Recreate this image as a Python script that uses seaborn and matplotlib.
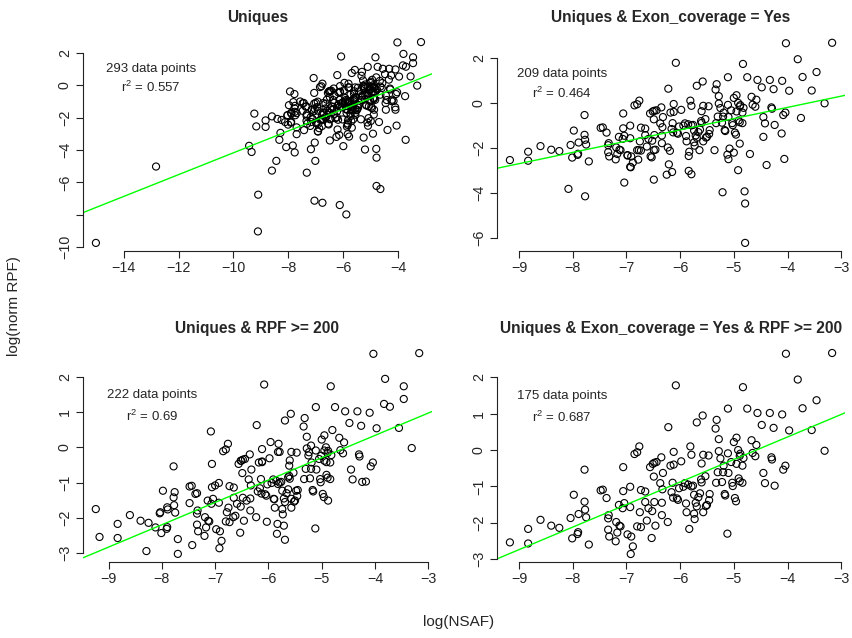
import numpy as np
import matplotlib
matplotlib.use("Agg")
import matplotlib.pyplot as plt
import seaborn as sns

# points shared by all four panels (Uniques & Exon_coverage = Yes & RPF >= 200)
core_x = [-9.17, -8.83, -8.83, -8.60, -8.40, -8.25, -8.04, -8.01, -7.98, -7.91,
          -7.90, -7.89, -7.78, -7.78, -7.77, -7.75, -7.70, -7.48, -7.44, -7.37,
          -7.34, -7.33, -7.34, -7.32, -7.20, -7.19, -7.17, -7.14, -7.13, -7.11,
          -7.06, -7.06, -7.04, -7.07, -6.98, -6.93, -6.93, -6.91, -6.92, -6.88,
          -6.85, -6.80, -6.76, -6.80, -6.75, -6.73, -6.73, -6.65, -6.65, -6.62,
          -6.59, -6.56, -6.53, -6.52, -6.51, -6.49, -6.48, -6.46, -6.48, -6.44,
          -6.37, -6.35, -6.34, -6.33, -6.32, -6.34, -6.22, -6.23, -6.18, -6.16,
          -6.12, -6.12, -6.14, -6.13, -6.08, -6.06, -6.04, -6.02, -5.98, -5.94,
          -5.91, -5.89, -5.88, -5.85, -5.83, -5.81, -5.79, -5.79, -5.76, -5.74,
          -5.74, -5.73, -5.71, -5.69, -5.69, -5.66, -5.63, -5.61, -5.60, -5.60,
          -5.58, -5.57, -5.57, -5.53, -5.52, -5.50, -5.47, -5.46, -5.45, -5.33,
          -5.34, -5.32, -5.30, -5.28, -5.28, -5.25, -5.22, -5.20, -5.19, -5.17,
          -5.16, -5.12, -5.11, -5.11, -5.10, -5.05, -5.03, -5.02, -5.00, -4.98,
          -4.96, -4.95, -4.95, -4.92, -4.91, -4.89, -4.89, -4.88, -4.84, -4.84,
          -4.83, -4.82, -4.75, -4.67, -4.65, -4.60, -4.58, -4.56, -4.48, -4.45,
          -4.42, -4.33, -4.30, -4.29, -4.26, -4.24, -4.10, -4.08, -4.04, -4.03,
          -3.97, -3.81, -3.72, -3.55, -3.46, -3.31, -3.17]
core_y = [-2.54, -2.17, -2.57, -1.92, -2.08, -2.14, -1.87, -2.43, -1.23, -2.31,
          -2.26, -1.76, -0.54, -1.42, -1.64, -1.85, -2.60, -1.11, -1.09, -1.32,
          -1.88, -1.79, -2.19, -2.38, -2.51, -1.98, -2.27, -1.51, -2.08, -2.10,
          -0.47, -1.13, -1.46, -1.60, -2.32, -1.01, -1.57, -2.38, -2.86, -2.65,
          -0.11, -0.06, 0.10, -2.10, -1.71, -2.12, -1.10, -1.14, -1.43, -1.94,
          -1.60, -0.47, -2.42, -1.68, -0.38, -0.73, -0.35, -2.08, -1.43, -0.33,
          -0.91, -0.20, -1.79, -1.08, -0.63, -1.45, 0.63, -1.98, -0.43, -1.16,
          -0.05, -0.40, -0.90, -1.31, 1.78, -1.33, -1.37, -1.05, -0.31, -1.01,
          -0.91, -1.47, -1.71, -0.95, -2.17, 0.10, -0.13, -1.00, -0.98, -1.23,
          -1.75, -1.90, -1.45, 0.76, -1.55, -1.30, -1.19, -0.81, -0.89, -0.37,
          0.95, -0.13, -1.71, -0.72, -1.54, -1.51, -0.15, -1.38, -1.21, -0.90,
          0.59, 0.83, -0.61, 0.30, -0.03, -0.23, -0.88, -0.61, -0.43, -1.21,
          -1.25, -2.30, 1.14, -0.09, -0.63, -0.33, -0.90, -0.99, 0.22, -1.32,
          -1.41, 0.34, -0.38, 0.00, -0.78, -0.86, -0.16, -0.10, -0.90, -0.43,
          1.73, -0.22, 1.14, 0.27, -0.08, -0.17, 0.14, 1.02, 0.69, -0.63,
          -0.91, 1.02, -0.20, -0.26, 0.61, -0.98, 0.98, -0.54, -0.43, 2.65,
          0.54, 1.94, 1.15, 0.55, 1.37, -0.02, 2.67]

# extra points with RPF >= 200 but no exon coverage
rpf_extra_x = [-9.24, -8.29, -8.12, -7.70, -7.43, -7.48, -7.08, -6.03, -5.84, -5.69,
               -5.71, -4.88, -3.83, -3.46, -4.80, -4.17, -6.78, -6.66, -6.41, -7.00,
               -6.20, -5.90, -5.57, -5.48, -6.12, -5.82, -5.63, -5.24, -4.95, -4.91,
               -5.01, -5.20, -5.96, -5.82, -5.61, -6.52, -7.34, -8.03, -7.90, -7.76]
rpf_extra_y = [-1.75, -2.94, -2.27, -3.02, -2.77, -1.58, 0.45, -2.11, -2.45, -2.62,
               -2.22, -1.51, 1.23, 1.73, 0.49, -0.97, -1.84, -1.98, -1.51, -1.08,
               -1.25, -1.46, -1.46, -1.23, -0.42, -1.04, -0.85, -0.14, -0.09, -0.42,
               -0.24, 0.05, 0.15, -0.13, -0.52, -0.38, -1.30, -1.84, -1.70, -1.27]

# extra points with exon coverage but RPF < 200
exon_extra_x = [-8.08, -7.77, -7.04, -6.49, -6.25, -6.21, -6.15, -5.84, -5.79, -5.21,
                -4.80, -4.79, -4.79, -4.92, -4.39, -4.06, -4.89, -4.70, -5.10, -5.00,
                -5.08, -5.36, -5.64, -5.84, -6.19, -6.49, -6.55, -6.78, -6.93, -6.77,
                -6.98, -4.11, -3.75, -4.45]
exon_extra_y = [-3.82, -4.15, -3.54, -3.41, -3.19, -2.73, -3.07, -3.02, -3.17, -3.97,
                -3.93, -4.47, -6.22, -2.99, -2.76, -2.49, -1.81, -2.27, -2.50, -2.21,
                -2.03, -2.10, -2.10, -2.36, -2.13, -2.10, -2.37, -2.52, -2.84, -2.10,
                -2.34, -1.36, -0.67, -1.51]

# remaining uniques (neither filter)
other_x = [-15.01, -12.82, -9.43, -9.34, -9.10, -9.11, -8.60, -8.44, -8.33, -7.84,
           -7.33, -7.18, -7.02, -7.05, -6.76, -6.13, -5.89, -6.00, -5.26, -4.65,
           -3.73,
           -7.82, -7.57, -7.15, -6.96, -6.72, -6.60, -6.41, -6.29, -6.23, -6.05,
           -5.93, -5.87, -5.74, -5.62, -5.56, -5.44, -5.32, -5.26, -5.13, -5.07,
           -5.01, -4.89, -4.77, -4.65, -4.46, -4.34, -4.22, -4.10, -7.94, -7.70,
           -6.84, -5.87]
other_y = [-9.74, -5.02, -3.74, -4.12, -6.76, -9.03, -5.27, -4.67, -3.37, -3.72,
           -5.40, -3.95, -4.67, -7.13, -7.26, -7.40, -7.98, -3.76, -3.23, -6.41,
           -3.37,
           -1.04, -1.00, -1.51, -1.35, -1.68, -0.89, -1.31, -2.03, -1.62, -1.10,
           -0.79, -1.51, -0.58, -1.00, -1.82, -0.38, -0.69, -0.07, -0.48, -1.31,
           0.14, -0.79, -0.27, -0.58, -1.10, 0.35, -0.89, -1.51, -0.38, -1.72,
           -2.13, -2.55]

titles = ["Uniques", "Uniques & Exon_coverage = Yes",
          "Uniques & RPF >= 200", "Uniques & Exon_coverage = Yes & RPF >= 200"]
n_points = [293, 209, 222, 175]
r_squared = ["0.557", "0.464", "0.69", "0.687"]
# fitted lines (slope, intercept) as drawn
fit_slope = [0.675, 0.50, 0.633, 0.62]
fit_icept = [2.58, 1.80, 2.87, 2.84]

xticks_list = [[-14, -12, -10, -8, -6, -4], list(range(-9, -2)),
               list(range(-9, -2)), list(range(-9, -2))]
yticks_list = [[-10, -8, -6, -4, -2, 0, 2], [-6, -4, -2, 0, 2],
               list(range(-3, 3)), list(range(-3, 3))]
xlims = [(-15.48, -2.77), (-9.41, -2.93), (-9.48, -2.93), (-9.41, -2.93)]
ylims = [(-10.24, 3.17), (-6.58, 3.06), (-3.25, 2.90), (-3.08, 2.89)]

panel_x = [core_x + rpf_extra_x + exon_extra_x + other_x,
           core_x + exon_extra_x,
           core_x + rpf_extra_x,
           core_x]
panel_y = [core_y + rpf_extra_y + exon_extra_y + other_y,
           core_y + exon_extra_y,
           core_y + rpf_extra_y,
           core_y]

sns.set_style("ticks")
plt.rcParams['font.family'] = ['Liberation Sans', 'DejaVu Sans']
plt.rcParams['mathtext.default'] = 'regular'

W, H = 853, 638
fig = plt.figure(figsize=(W / 100, H / 100), dpi=100)

# axes boxes in pixels: left, top, width, height
boxes = [(83, 34, 349, 217), (497, 34, 348, 217),
         (83, 345, 349, 217), (497, 345, 348, 217)]
text_pos = [(0.195, 0.839, 0.755), (0.187, 0.816, 0.728),
            (0.198, 0.770, 0.673), (0.187, 0.765, 0.668)]

for i in range(4):
    l, t, w, h = boxes[i]
    ax = fig.add_axes([l / W, 1 - (t + h) / H, w / W, h / H])
    sns.scatterplot(x=panel_x[i], y=panel_y[i], ax=ax, s=26,
                    facecolor='none', edgecolor='black', linewidth=0.8)
    ax.axline((0, fit_icept[i]), slope=fit_slope[i], color='#00FF00', lw=1.0)
    ax.set_xlim(*xlims[i])
    ax.set_ylim(*ylims[i])
    ax.set_xticks(xticks_list[i])
    ax.set_yticks(yticks_list[i])
    ylabels = [str(v) if v != -8 else '' for v in yticks_list[i]]
    ax.set_yticklabels([s.replace('-', '\u2212') for s in ylabels])
    for side in ['top', 'right']:
        ax.spines[side].set_visible(False)
    ax.spines['left'].set_bounds(min(yticks_list[i]), max(yticks_list[i]))
    ax.spines['bottom'].set_bounds(min(xticks_list[i]), max(xticks_list[i]))
    for side in ['left', 'bottom']:
        ax.spines[side].set_linewidth(0.8)
        ax.spines[side].set_color('#222222')
    ax.tick_params(axis='both', direction='out', length=5, width=0.8,
                   color='#222222', labelsize=10.3)
    ax.tick_params(axis='x', pad=2)
    ax.tick_params(axis='y', pad=3)
    for lab in ax.get_yticklabels():
        lab.set_rotation(90)
        lab.set_va('center')
    ax.set_title(titles[i], fontsize=11.2, fontweight='bold', pad=8.5)
    tx, ty1, ty2 = text_pos[i]
    ax.text(tx, ty1, f"{n_points[i]} data points", transform=ax.transAxes,
            ha='center', va='center', fontsize=9.5)
    ax.text(tx, ty2, f"r$^2$ = {r_squared[i]}", transform=ax.transAxes,
            ha='center', va='center', fontsize=9.5)
    ax.set_xlabel('')
    ax.set_ylabel('')

fig.text(0.538, 0.025, "log(NSAF)", ha='center', va='center', fontsize=11)
fig.text(0.016, 0.52, "log(norm RPF)", ha='center', va='center',
         rotation=90, fontsize=11)

fig.savefig("out.png", dpi=100)
